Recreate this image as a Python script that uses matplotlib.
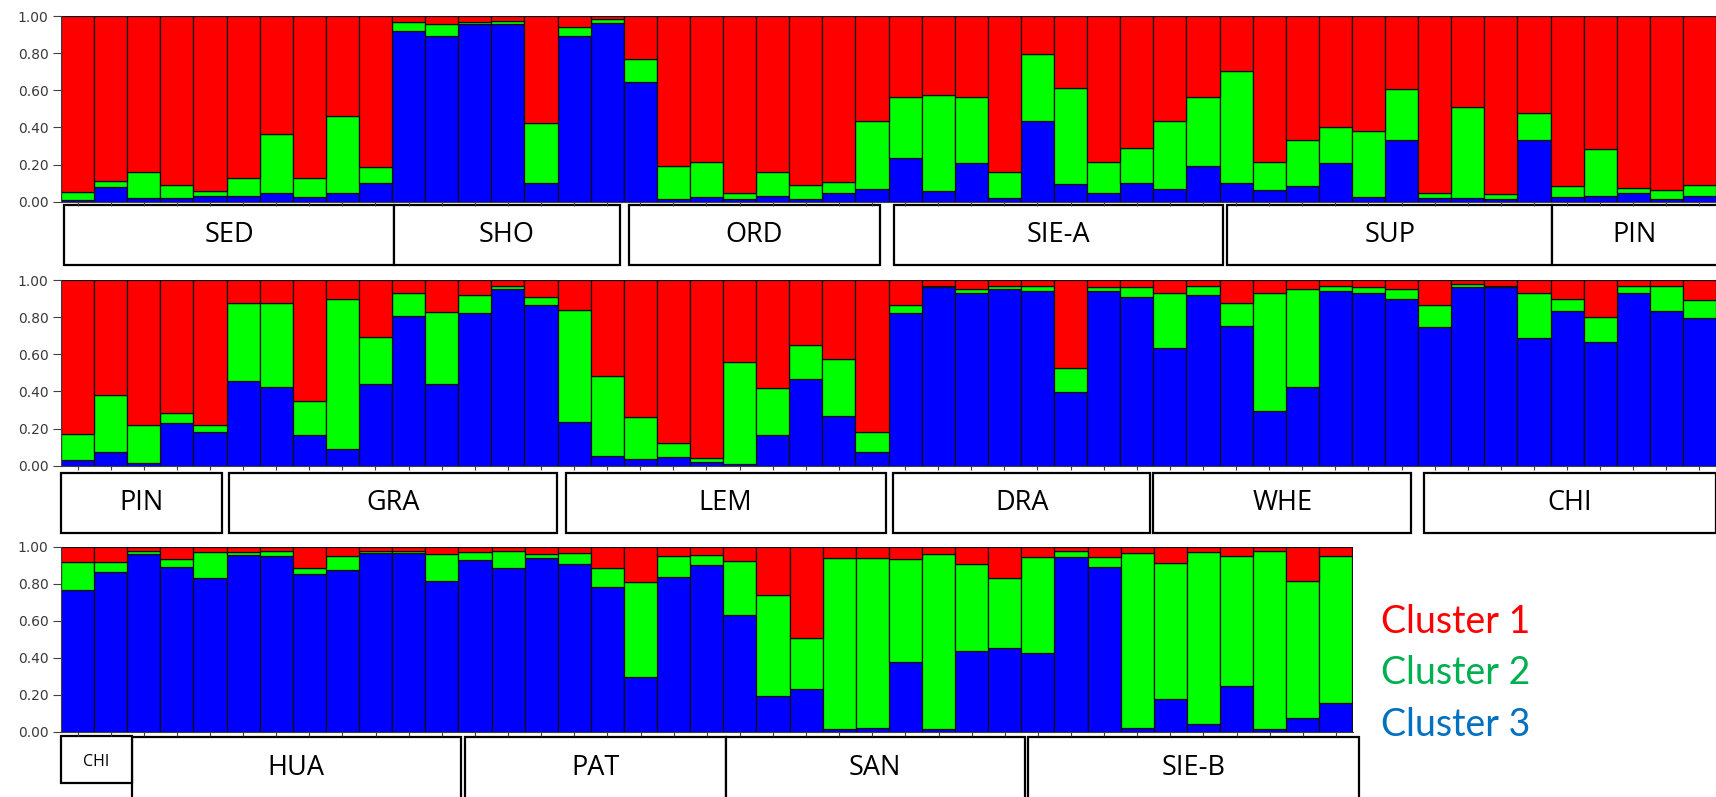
import numpy as np
import matplotlib
matplotlib.use("Agg")
from matplotlib import pyplot as plt
from matplotlib.patches import Rectangle

# ---------------------------------------------------------------------------
# membership proportions (cluster 3 = blue, cluster 2 = green, cluster 1 = rest)

row1_q3 = [0.01, 0.08, 0.02, 0.02, 0.03, 0.03, 0.045, 0.025, 0.045, 0.10,
           0.92, 0.89, 0.957, 0.957, 0.10, 0.894, 0.964, 0.643,
           0.016, 0.023, 0.016, 0.03, 0.013, 0.045, 0.07,
           0.233, 0.06, 0.206, 0.02, 0.434, 0.093, 0.048, 0.10, 0.066, 0.194, 0.10, 0.063, 0.086,
           0.21, 0.023, 0.33, 0.018, 0.02, 0.015, 0.33, 0.023, 0.03, 0.045, 0.015, 0.03]
row1_q2 = [0.04, 0.03, 0.14, 0.07, 0.03, 0.10, 0.32, 0.10, 0.415, 0.085,
           0.05, 0.065, 0.013, 0.018, 0.325, 0.046, 0.02, 0.124,
           0.174, 0.192, 0.032, 0.13, 0.077, 0.06, 0.363,
           0.332, 0.513, 0.359, 0.14, 0.361, 0.517, 0.167, 0.187, 0.37, 0.371, 0.605, 0.152, 0.246,
           0.19, 0.357, 0.275, 0.027, 0.49, 0.025, 0.145, 0.062, 0.254, 0.03, 0.048, 0.06]

row2_q3 = [0.03, 0.072, 0.016, 0.232, 0.184,
           0.454, 0.423, 0.166, 0.09, 0.44, 0.805, 0.44, 0.823, 0.95, 0.868,
           0.238, 0.054, 0.038, 0.045, 0.022, 0.01, 0.166, 0.468, 0.268, 0.072,
           0.82, 0.96, 0.93, 0.95, 0.94, 0.396, 0.94, 0.91,
           0.634, 0.92, 0.751, 0.295, 0.423, 0.94, 0.93, 0.90,
           0.748, 0.96, 0.96, 0.685, 0.832, 0.667, 0.93, 0.832, 0.796]
row2_q2 = [0.14, 0.308, 0.204, 0.051, 0.036,
           0.42, 0.454, 0.184, 0.805, 0.254, 0.125, 0.389, 0.097, 0.02, 0.042,
           0.598, 0.431, 0.222, 0.075, 0.018, 0.55, 0.254, 0.184, 0.309, 0.112,
           0.048, 0.01, 0.02, 0.02, 0.03, 0.13, 0.02, 0.05,
           0.296, 0.05, 0.126, 0.635, 0.527, 0.03, 0.03, 0.05,
           0.117, 0.02, 0.01, 0.245, 0.068, 0.133, 0.04, 0.138, 0.094]

row3_q3 = [0.766, 0.865, 0.959, 0.888, 0.832, 0.955, 0.951, 0.852, 0.874, 0.968, 0.968, 0.816,
           0.93, 0.883, 0.94, 0.905, 0.78, 0.294, 0.838, 0.90,
           0.63, 0.195, 0.229, 0.014, 0.02, 0.378, 0.014, 0.436, 0.45, 0.423,
           0.942, 0.892, 0.02, 0.177, 0.041, 0.249, 0.014, 0.072, 0.157]
row3_q2 = [0.153, 0.05, 0.019, 0.045, 0.137, 0.014, 0.027, 0.031, 0.076, 0.01, 0.01, 0.146,
           0.039, 0.095, 0.02, 0.059, 0.106, 0.513, 0.112, 0.055,
           0.292, 0.544, 0.276, 0.923, 0.92, 0.555, 0.946, 0.469, 0.382, 0.519,
           0.034, 0.054, 0.948, 0.733, 0.928, 0.701, 0.962, 0.74, 0.793]

# population boxes: (name, first bar, last bar) in bar units
row1_groups = [("SED", 0.09, 10.06), ("SHO", 10.06, 16.89), ("ORD", 17.16, 24.74),
               ("SIE-A", 25.17, 35.11), ("SUP", 35.24, 45.05), ("PIN", 45.05, 50.05)]
row2_groups = [("PIN", 0.0, 4.86), ("GRA", 5.08, 14.99), ("LEM", 15.25, 24.91),
               ("DRA", 25.15, 32.9), ("WHE", 33.0, 40.79), ("CHI", 41.18, 50.0)]
row3_groups = [("HUA", 2.14, 12.07), ("PAT", 12.2, 20.08),
               ("SAN", 20.08, 29.1), ("SIE-B", 29.2, 39.2)]
row3_small = ("CHI", 0.0, 2.14)

clusters = ["Cluster 1", "Cluster 2", "Cluster 3"]

# ---------------------------------------------------------------------------

W, H = 1716, 797
fig = plt.figure(figsize=(W / 100, H / 100), dpi=100)

def px_axes(x0, y0, x1, y1):
	return fig.add_axes([x0 / W, 1 - y1 / H, (x1 - x0) / W, (y1 - y0) / H])

def structure(ax, q3, q2):
	q3 = np.array(q3)
	q2 = np.array(q2)
	q1 = 1 - q3 - q2
	x  = np.arange(len(q3)) + 0.5
	kw = dict(width=1.0, edgecolor="#101010", linewidth=0.9)
	ax.bar(x, q3, color="#0000FF", **kw)
	ax.bar(x, q2, bottom=q3, color="#00FF00", **kw)
	ax.bar(x, q1, bottom=q3 + q2, color="#FF0000", **kw)
	ax.set_xlim(0, len(q3))
	ax.set_ylim(0, 1)
	ax.set_yticks(np.arange(0, 1.01, 0.2))
	ax.set_yticklabels(["%.2f" % v for v in np.arange(0, 1.01, 0.2)],
	                   fontsize=10, color="#3a3a3a", family="DejaVu Sans")
	ax.set_xticks(x)
	ax.set_xticklabels([])
	ax.tick_params(axis="y", length=6, width=0.8, color="#404040", pad=3)
	ax.tick_params(axis="x", length=3, width=0.8, color="#404040")
	ax.spines["right"].set_visible(False)
	ax.spines["top"].set_visible(False)
	ax.spines["left"].set_color("#404040")
	ax.spines["bottom"].set_color("#404040")

def boxes(ax, groups, y0, y1, ytext, size=19.5):
	tr = ax.get_xaxis_transform()
	for name, a, b in groups:
		ax.add_patch(Rectangle((a, y1), b - a, y0 - y1, transform=tr, facecolor="white",
		                       edgecolor="black", linewidth=1.6, clip_on=False))
		ax.text((a + b) / 2, ytext, name, transform=tr, ha="center", va="center",
		        fontsize=size, family="Open Sans", clip_on=False)

ax1 = px_axes(61, 16, 1716, 201.7)
ax2 = px_axes(61, 280, 1716, 465.7)
ax3 = px_axes(61, 546.7, 1352.5, 731.7)

structure(ax1, row1_q3, row1_q2)
structure(ax2, row2_q3, row2_q2)
structure(ax3, row3_q3, row3_q2)

boxes(ax1, row1_groups, -0.018, -0.341, -0.18)
boxes(ax2, row2_groups, -0.038, -0.364, -0.20)
boxes(ax3, row3_groups, -0.027, -0.45, -0.197)
boxes(ax3, [row3_small], -0.023, -0.276, -0.165, size=11.5)

colors = ["#FF0000", "#00B050", "#0070C0"]
for i, (name, c) in enumerate(zip(clusters, colors)):
	fig.text(1381 / W, 1 - (621.7 + 51.7 * i) / H, name, color=c,
	         fontsize=27, family="Lato", ha="left", va="center")

plt.savefig("out.png", dpi=100)
